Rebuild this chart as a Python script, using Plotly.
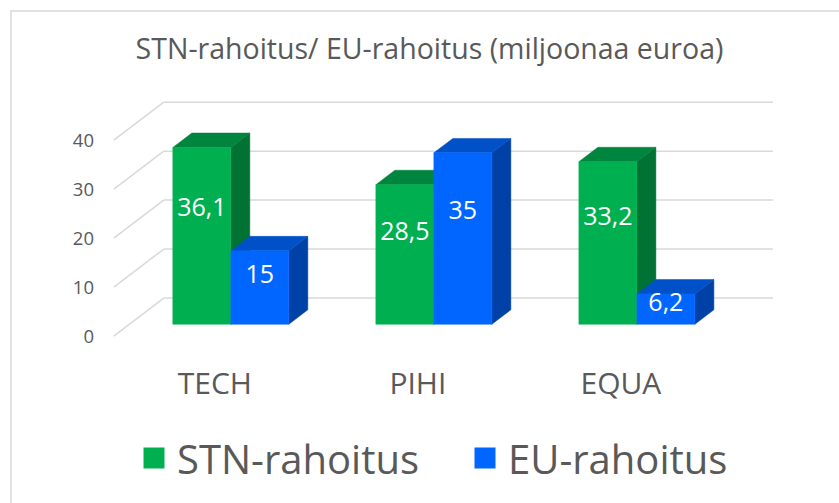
import plotly.graph_objects as go

# ---------------- data ----------------
categories = ["TECH", "PIHI", "EQUA"]
stn_values = [36.1, 28.5, 33.2]
eu_values = [15, 35, 6.2]
series_names = ["STN-rahoitus", "EU-rahoitus"]
y_ticks = [0, 10, 20, 30, 40]
title_text = "STN-rahoitus/ EU-rahoitus (miljoonaa euroa)"

# ---------------- style / geometry ----------------
W, H = 839, 503
M_L, M_R, M_T, M_B = 109, 60, 99, 166
X_RANGE = [-0.6, 2.7]
Y_RANGE = [-2.6, 46]
PX_X = (W - M_L - M_R) / (X_RANGE[1] - X_RANGE[0])
PX_Y = (H - M_T - M_B) / (Y_RANGE[1] - Y_RANGE[0])

DEPTH_PX = (50, 38)                 # full depth of the 3D box in pixels
DX = DEPTH_PX[0] / PX_X             # in x units
DY = DEPTH_PX[1] / PX_Y             # in y units
FRONT_D = 0.31                      # depth of bar front plane
BAR_DEPTH = 0.38
BAR_W = 0.2857
LABEL_FRAC = 0.65

FACE = {
    0: dict(front="#00B050", top="#00853E", side="#007233"),
    1: dict(front="#0066FF", top="#0050C8", side="#0041A8"),
}
GRID = "#D9D9D9"
TXT = "#595959"
FONT = "Open Sans"

fig = go.Figure()

# ---------------- walls / grid ----------------
bdx = (1 - FRONT_D) * DX
bdy = (1 - FRONT_D) * DY
fdx = FRONT_D * DX
fdy = FRONT_D * DY
x_left = -0.5
x_right = len(categories) - 0.5
gx, gy = [], []
for t in y_ticks:
    gx += [x_left + bdx, x_right + bdx, None]
    gy += [t + bdy, t + bdy, None]
    gx += [x_left - fdx, x_left + bdx, None]
    gy += [t - fdy, t + bdy, None]
fig.add_trace(go.Scatter(x=gx, y=gy, mode="lines", line=dict(color=GRID, width=1.5),
                         hoverinfo="skip", showlegend=False))

# ---------------- 3D bars ----------------
ddx = BAR_DEPTH * DX
ddy = BAR_DEPTH * DY
for s, vals in enumerate([stn_values, eu_values]):
    fx, fy, tx, ty, sx, sy = [], [], [], [], [], []
    for i, v in enumerate(vals):
        x0 = i - BAR_W + s * BAR_W
        x1 = x0 + BAR_W
        fx += [x0, x1, x1, x0, x0, None]
        fy += [0, 0, v, v, 0, None]
        tx += [x0, x1, x1 + ddx, x0 + ddx, x0, None]
        ty += [v, v, v + ddy, v + ddy, v, None]
        sx += [x1, x1 + ddx, x1 + ddx, x1, x1, None]
        sy += [0, ddy, v + ddy, v, 0, None]
    for xs, ys, col in [(sx, sy, FACE[s]["side"]), (tx, ty, FACE[s]["top"]),
                        (fx, fy, FACE[s]["front"])]:
        fig.add_trace(go.Scatter(x=xs, y=ys, mode="lines", fill="toself",
                                 fillcolor=col, line=dict(color=col, width=0.5),
                                 hoverinfo="skip", showlegend=False))

# data labels
for s, vals in enumerate([stn_values, eu_values]):
    fig.add_trace(go.Scatter(
        x=[i - BAR_W / 2 + s * BAR_W for i in range(len(vals))],
        y=[v * LABEL_FRAC for v in vals],
        mode="text",
        text=[f"{v:g}".replace(".", ",") for v in vals],
        textfont=dict(family=FONT, size=25, color="white"),
        hoverinfo="skip", showlegend=False))

# legend entries
for s, name in enumerate(series_names):
    fig.add_trace(go.Scatter(
        x=[None], y=[None], mode="markers", name=name,
        marker=dict(symbol="square", size=16, color=FACE[s]["front"],
                    line=dict(color=FACE[s]["front"], width=5))))

# ---------------- frame ----------------
pw = W - M_L - M_R
ph = H - M_T - M_B
def px2paper(px, py):
    return (px - M_L) / pw, (H - M_B - py) / ph
fx0, fy0 = px2paper(11, 11)
fx1, fy1 = px2paper(W + 10, H + 10)
fig.add_shape(type="rect", xref="paper", yref="paper", x0=fx0, y0=fy1, x1=fx1, y1=fy0,
              line=dict(color=GRID, width=1.5), fillcolor="rgba(0,0,0,0)", layer="below")

fig.update_layout(
    width=W, height=H,
    margin=dict(l=M_L, r=M_R, t=M_T, b=M_B, autoexpand=False),
    paper_bgcolor="white", plot_bgcolor="white",
    title=dict(text=title_text, x=429.5 / W, xanchor="center", xref="container",
               y=1 - 49 / H, yanchor="middle", yref="container",
               font=dict(family=FONT, size=28.5, color=TXT)),
    showlegend=True,
    legend=dict(orientation="h", xref="container", yref="container",
                x=131 / W, xanchor="left", y=1 - 458 / H, yanchor="middle",
                entrywidth=280, itemwidth=36,
                font=dict(family=FONT, size=40, color=TXT), itemsizing="trace",
                bgcolor="rgba(0,0,0,0)"),
    xaxis=dict(range=X_RANGE, tickvals=list(range(len(categories))), ticktext=categories,
               showgrid=False, zeroline=False, showline=False, ticks="",
               ticklabelshift=-round(fdx * PX_X), ticklabelstandoff=26,
               tickfont=dict(family=FONT, size=30, color=TXT), fixedrange=True),
    yaxis=dict(range=Y_RANGE, tickvals=y_ticks, showgrid=False, zeroline=False,
               showline=False, ticks="", ticklabelshift=round(fdy * PX_Y),
               ticklabelstandoff=14,
               tickfont=dict(family=FONT, size=18.5, color=TXT), fixedrange=True),
    hovermode=False,
)

fig.write_html("out.html")
